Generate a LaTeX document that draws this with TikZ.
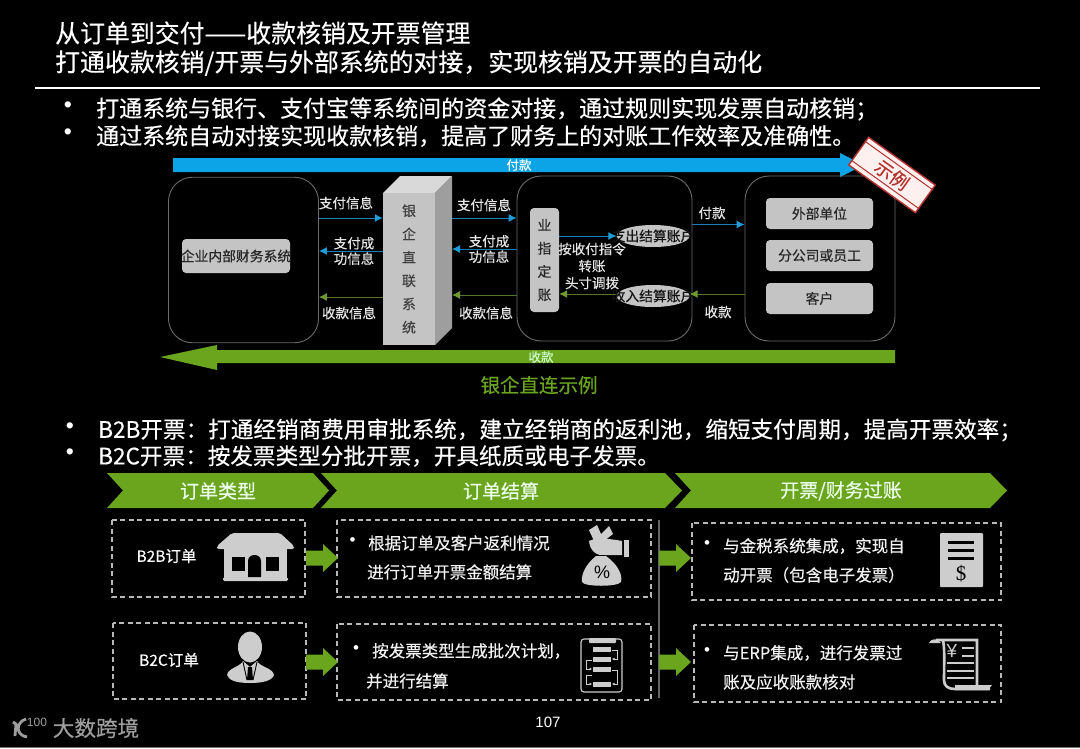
\documentclass[tikz,border=0pt]{standalone}
\usepackage{fontspec}
\setmainfont{Noto Sans CJK SC}[FakeBold=0.35]
\newfontfamily\latinfont{Liberation Sans}
\newfontfamily\seriffont{Liberation Serif}
\usepackage{tikz}
\usepackage{xcolor}
\usetikzlibrary{arrows.meta,calc,shapes.geometric}
\definecolor{paybar}{HTML}{0CA4E6}
\definecolor{payline}{HTML}{1B7DB3}
\definecolor{paytip}{HTML}{1E9CD8}
\definecolor{getbar}{HTML}{6BA51E}
\definecolor{getline}{HTML}{55752C}
\definecolor{gettip}{HTML}{6F9A2E}
\definecolor{lightbox}{HTML}{C4C4C4}
\definecolor{iconfill}{HTML}{CDCDCD}
\definecolor{stampred}{HTML}{B5332E}
\tikzset{
  headline/.style={anchor=west,font=\fontsize{24.9}{26}\selectfont},
  bulletline/.style={anchor=west,font=\fontsize{23}{25}\selectfont},
  invoiceline/.style={anchor=west,font=\fontsize{22.6}{24}\selectfont},
  bigdot/.style={font=\latinfont\fontsize{23}{25}\selectfont},
  smalldot/.style={font=\latinfont\fontsize{17}{19}\selectfont},
  flowlabel/.style={font=\fontsize{13.5}{15.5}\selectfont,align=center,text=white!90!black},
  graybox/.style={fill=lightbox,rounded corners=4pt,font=\fontsize{13.8}{16}\selectfont,text=black!85},
  roundbox/.style={draw=white!42!black,line width=0.9pt,rounded corners=24pt},
  accountoval/.style={ellipse,fill=lightbox,minimum width=73pt,minimum height=22pt,font=\fontsize{13.8}{16}\selectfont,text=black!92},
  payarrow/.style={draw=payline,line width=1pt,-{Latex[length=8pt,width=8pt,color=paytip]}},
  getarrow/.style={draw=getline,line width=1pt,-{Latex[length=8pt,width=8pt,color=gettip]}},
  chevronlabel/.style={font=\fontsize{19}{21}\selectfont,text=white!92!green},
  dashbox/.style={draw=white!72!black,line width=1.2pt,dash pattern=on 5pt off 3.5pt},
  ordertext/.style={anchor=west,font=\fontsize{16.5}{18}\selectfont,text=white!95!black},
  blockarrow/.style={fill=getbar},
  iconpart/.style={fill=iconfill}
}
\begin{document}
\begin{tikzpicture}[x=1pt,y=-1pt,every node/.style={inner sep=0pt,text=white}]
\fill[black] (0,0) rectangle (1080,748);
\useasboundingbox (0,0) rectangle (1080,748);
\draw[white!45!black,line width=1pt] (0,747.5) -- (1080,747.5);

% heading
\node[headline] (titleone) at (55,33) {从订单到交付——收款核销及开票管理};
\node[headline] (titletwo) at (55,63) {打通收款核销/开票与外部系统的对接，实现核销及开票的自动化};
\draw[white,line width=1.2pt] (35,88) -- (1040,88);
\node[bigdot] (dotone) at (68,107) {•};
\node[bulletline] (lineone) at (96,109) {打通系统与银行、支付宝等系统间的资金对接，通过规则实现发票自动核销；};
\node[bigdot] (dottwo) at (68,134) {•};
\node[bulletline] (linetwo) at (96,136) {通过系统自动对接实现收款核销，提高了财务上的对账工作效率及准确性。};

% payment and receipt bars
\fill[paybar] (173,158) -- (840,158) -- (840,153) -- (864,165) -- (840,177) -- (840,172) -- (173,172) -- cycle;
\node[font=\fontsize{12.5}{14}\selectfont] (paybarlabel) at (519,165) {付款};
\fill[getbar] (895,350) -- (217,350) -- (217,345) -- (160,357) -- (217,370) -- (217,363) -- (895,363) -- cycle;
\node[font=\fontsize{12.5}{14}\selectfont,text=white!80!green] (getbarlabel) at (541,357) {收款};

% three groups
\node[roundbox,minimum width=150pt,minimum height=165.5pt] (financegroup) at (243.5,260) {};
\node[roundbox,minimum width=175pt,minimum height=165pt] (accountgroup) at (604.5,258.5) {};
\node[roundbox,minimum width=150pt,minimum height=165pt] (partnergroup) at (820,258.5) {};
\node[graybox,minimum width=108pt,minimum height=34pt] (financebox) at (236,256) {\makebox[0pt]{企业内部财务系统}};

% bank block
\fill[white!85!black] (383,193) -- (400,176) -- (452,176) -- (435,193) -- cycle;
\fill[white!62!black] (435,193) -- (452,176) -- (452,328) -- (435,345) -- cycle;
\node[fill=lightbox,minimum width=52pt,minimum height=152pt,font=\fontsize{13.8}{23.3}\selectfont,text=black!75,align=center] (bankfront) at (409,269) {银\\企\\直\\联\\系\\统};
\coordinate (bankedge) at (452,260);

% arrows between finance and bank
\draw[payarrow] (financegroup.east |- 0,218) -- (bankfront.west |- 0,218);
\node[flowlabel] (sendinfo) at (346,203) {支付信息};
\draw[payarrow] (bankfront.west |- 0,251) -- (financegroup.east |- 0,251);
\node[flowlabel] (paydone) at (354,251) {支付成\\功信息};
\draw[getarrow] (bankfront.west |- 0,297) -- (financegroup.east |- 0,297);
\node[flowlabel] (getinfo) at (349,313) {收款信息};

% arrows between bank and accounts
\draw[payarrow] (bankedge |- 0,218) -- (accountgroup.west |- 0,218);
\node[flowlabel] (sendinfob) at (484,205) {支付信息};
\draw[payarrow] (accountgroup.west |- 0,249) -- (bankedge |- 0,249);
\node[flowlabel] (paydoneb) at (489,249) {支付成\\功信息};
\draw[getarrow] (accountgroup.west |- 0,295) -- (bankedge |- 0,295);
\node[flowlabel] (getinfob) at (486,313) {收款信息};

% account group
\node[graybox,minimum width=29pt,minimum height=104pt,font=\fontsize{13.8}{23.2}\selectfont,align=center] (assignbox) at (544.5,260) {业\\指\\定\\账};
\node[accountoval] (payoval) at (653,236) {\makebox[0pt]{支出结算账户}};
\node[accountoval] (getoval) at (653,296) {\makebox[0pt]{收入结算账户}};
\draw[payarrow] (assignbox.east |- payoval) -- (payoval.west);
\draw[getarrow] (getoval.west |- 0,294) -- (assignbox.east |- 0,294);
\node[flowlabel,font=\fontsize{13.5}{17}\selectfont] (transfertext) at (592,266) {按收付指令\\转账\\头寸调拨};

% partner group
\node[graybox,minimum width=107pt,minimum height=31pt] (outerunit) at (819.5,213.5) {外部单位};
\node[graybox,minimum width=107pt,minimum height=31pt] (branchstaff) at (819.5,255.5) {分公司或员工};
\node[graybox,minimum width=107pt,minimum height=31pt] (customer) at (819.5,298.5) {客户};
\draw[payarrow] (accountgroup.east |- 0,224.5) -- (partnergroup.west |- 0,224.5);
\node[flowlabel] (paylabel) at (712,213) {付款};
\draw[getarrow] (partnergroup.west |- 0,294) -- (getoval.east |- 0,294);
\node[flowlabel] (getlabel) at (718,312) {收款};

% stamp
\node[draw=stampred,line width=1.4pt,fill=white!94!red,minimum width=82pt,minimum height=34pt,rotate=-35.6,text=stampred,font=\fontsize{18.5}{20}\selectfont] (stamp) at (892,175) {示例};
\draw[stampred,line width=1pt] ($(stamp.north west)!0.17!(stamp.south west)$) -- ($(stamp.north east)!0.17!(stamp.south east)$);
\draw[stampred,line width=1pt] ($(stamp.north west)!0.83!(stamp.south west)$) -- ($(stamp.north east)!0.83!(stamp.south east)$);

\node[font=\fontsize{19.5}{21}\selectfont,text=getbar] (bankcaption) at (539,385) {银企直连示例};

% invoice bullets
\node[bigdot] (dotthree) at (70,428) {•};
\node[invoiceline] (linethree) at (98,430) {B2B开票：打通经销商费用审批系统，建立经销商的返利池，缩短支付周期，提高开票效率；};
\node[bigdot] (dotfour) at (70,454) {•};
\node[invoiceline] (linefour) at (98,456) {B2C开票：按发票类型分批开票，开具纸质或电子发票。};

% chevrons
\fill[getbar] (107,473) -- (313,473) -- (329,490.5) -- (313,508) -- (107,508) -- (123,490.5) -- cycle;
\node[chevronlabel] (ordertype) at (218,491) {订单类型};
\fill[getbar] (321,473) -- (665,473) -- (682,490.5) -- (665,508) -- (321,508) -- (337,490.5) -- cycle;
\node[chevronlabel] (orderclose) at (501,491) {订单结算};
\fill[getbar] (675,473) -- (990,473) -- (1007,490.5) -- (990,508) -- (675,508) -- (691,490.5) -- cycle;
\node[chevronlabel] (invoicepost) at (841,491) {开票/财务过账};

% dashed panels
\draw[dashbox] (112,520) rectangle (305,597);
\draw[dashbox] (113,623) rectangle (306,699);
\draw[dashbox] (337,520) rectangle (651,597);
\draw[dashbox] (337,624) rectangle (651,700);
\draw[dashbox] (692,523) rectangle (1001,600);
\draw[dashbox] (694,625) rectangle (1001,702);
\draw[white!40!black,line width=1.4pt] (659,520) -- (659,698);

% block arrows
\fill[blockarrow] (306,550.5) -- (323,550.5) -- (323,544) -- (338,558) -- (323,572) -- (323,565.5) -- (306,565.5) -- cycle;
\fill[blockarrow] (306,654.5) -- (323,654.5) -- (323,648) -- (338,662) -- (323,676) -- (323,669.5) -- (306,669.5) -- cycle;
\fill[blockarrow] (659,550.5) -- (676,550.5) -- (676,544) -- (691,558) -- (676,572) -- (676,565.5) -- (659,565.5) -- cycle;
\fill[blockarrow] (659,654.5) -- (676,654.5) -- (676,648) -- (691,662) -- (676,676) -- (676,669.5) -- (659,669.5) -- cycle;

% panel texts
\node[font=\fontsize{15.5}{17}\selectfont] (btobname) at (166.5,556) {B2B订单};
\node[font=\fontsize{15.5}{17}\selectfont] (btocname) at (169,660) {B2C订单};
\node[smalldot] (dotfive) at (352.5,542) {•};
\node[ordertext] (rebateone) at (368,543) {根据订单及客户返利情况};
\node[ordertext] (rebatetwo) at (367,572) {进行订单开票金额结算};
\node[smalldot] (dotsix) at (356,650) {•};
\node[ordertext] (batchone) at (372,651) {按发票类型生成批次计划，};
\node[ordertext] (batchtwo) at (366,681) {并进行结算};
\node[smalldot] (dotseven) at (707,545) {•};
\node[ordertext] (taxone) at (723,546) {与金税系统集成，实现自};
\node[ordertext] (taxtwo) at (723,575) {动开票（包含电子发票）};
\node[smalldot] (doteight) at (707,652) {•};
\node[ordertext] (erpone) at (723,653) {与ERP集成，进行发票过};
\node[ordertext] (erptwo) at (723,682) {账及应收账款核对};

% shop icon
\fill[iconpart,rounded corners=2pt] (232,533) -- (280,533) -- (294,546) -- (294,549) -- (217,549) -- (217,546) -- cycle;
\fill[iconpart] (224,549) rectangle (287,578);
\fill[iconpart,rounded corners=1.5pt] (223,577) rectangle (288,581);
\fill[black] (232,557) rectangle (245,571);
\fill[black] (266,557) rectangle (279,571);
\fill[black] (248,577) -- (248,561) .. controls (248,553) and (261,553) .. (261,561) -- (261,577) -- cycle;

% bag icon
\fill[iconpart] (589,530) -- (597,525) -- (601,534) -- (609,526) -- (613,534) -- (604,541) -- (594,541) -- cycle;
\fill[iconpart] (589,541) .. controls (596,537) and (612,539) .. (622,541) -- (622,555) -- (604,555) .. controls (598,556) and (590,552) .. (589,541) -- cycle;
\fill[iconpart] (624,540) rectangle (629,557);
\fill[iconpart] (596,556) .. controls (586,564) and (581,574) .. (582,582) .. controls (584,587) and (618,587) .. (621,582) .. controls (623,574) and (617,564) .. (606,556) -- cycle;
\node[font=\latinfont\fontsize{18}{20}\selectfont,text=black] (bagpercent) at (602,572) {\%};

% person icon
\fill[iconpart] (250,647) ellipse (12 and 15.5);
\fill[iconpart] (227,675) .. controls (228,668) and (240,667) .. (243,661) -- (250,667) -- (257,661) .. controls (260,667) and (273,668) .. (274,675) .. controls (272,681) and (262,683) .. (250,683) .. controls (238,683) and (229,681) .. (227,675) -- cycle;
\draw[black,line width=0.9pt] (243,662) -- (247,680) (257,662) -- (253,680);
\fill[black] (248,667) -- (252,667) -- (253,680) -- (247,680) -- cycle;

% clipboard icon
\draw[iconfill,line width=1.1pt,rounded corners=3pt] (581,639) rectangle (622,692);
\fill[iconpart,rounded corners=1pt] (589,638) rectangle (616,643);
\fill[iconpart] (593,647) rectangle (611,652);
\fill[iconpart] (593,657) rectangle (611,662);
\fill[iconpart] (593,667) rectangle (611,672);
\fill[iconpart] (593,682) rectangle (611,687);
\draw[iconfill,line width=0.8pt,-{Latex[length=2.5pt,width=3pt]}] (612,650) -- (617,650) -- (617,659) -- (612,659);
\draw[iconfill,line width=0.8pt,-{Latex[length=2.5pt,width=3pt]}] (592,660) -- (586,660) -- (586,669) -- (592,669);
\draw[iconfill,line width=0.8pt,-{Latex[length=2.5pt,width=3pt]}] (612,670) -- (617,670) -- (617,684) -- (612,684);
\draw[iconfill,line width=0.8pt,-{Latex[length=2.5pt,width=3pt]}] (592,675) -- (586,675) -- (586,684) -- (592,684);

% bill icon
\fill[iconpart,rounded corners=1pt] (940,533) rectangle (983,587);
\fill[black] (948,540.5) rectangle (974,544);
\fill[black] (948,548.5) rectangle (974,552);
\fill[black] (948,556.5) rectangle (974,560);
\node[font=\seriffont\fontsize{21}{23}\selectfont,text=black] (billdollar) at (961,574) {\$};

% receipt icon
\fill[iconpart] (929,643) .. controls (931,638) and (938,638) .. (941,643) -- cycle;
\draw[iconfill,line width=2.6pt] (936,640) -- (977,640) -- (977,687) (943,640) .. controls (945,650) and (944,665) .. (944,680) .. controls (944,686) and (948,689) .. (955,689) -- (990,689);
\fill[iconpart] (955,685) -- (992,685) -- (988,690) -- (955,690) -- cycle;
\node[font=\latinfont\fontsize{19}{21}\selectfont,text=iconfill] (receiptyen) at (952,651) {¥};
\draw[iconfill,line width=1.4pt] (962,648) -- (974,648) (962,656) -- (974,656) (947,663) -- (974,663) (947,671) -- (974,671) (947,678) -- (974,678);

% page number and logo
\node[font=\latinfont\fontsize{15}{17}\selectfont] (pagenumber) at (548,722) {107};
\node[font=\fontsize{21.6}{23}\selectfont,text=white!62!black] (logotext) at (96,728) {大数跨境};
\draw[white!62!black,line width=2.8pt] (26,719) .. controls (16,722) and (15,735) .. (27,737) (13,722) -- (16,724) -- (15,736);
\node[font=\latinfont\fontsize{12}{13}\selectfont,text=white!62!black] (logonumber) at (37,722) {100};
\end{tikzpicture}
\end{document}
